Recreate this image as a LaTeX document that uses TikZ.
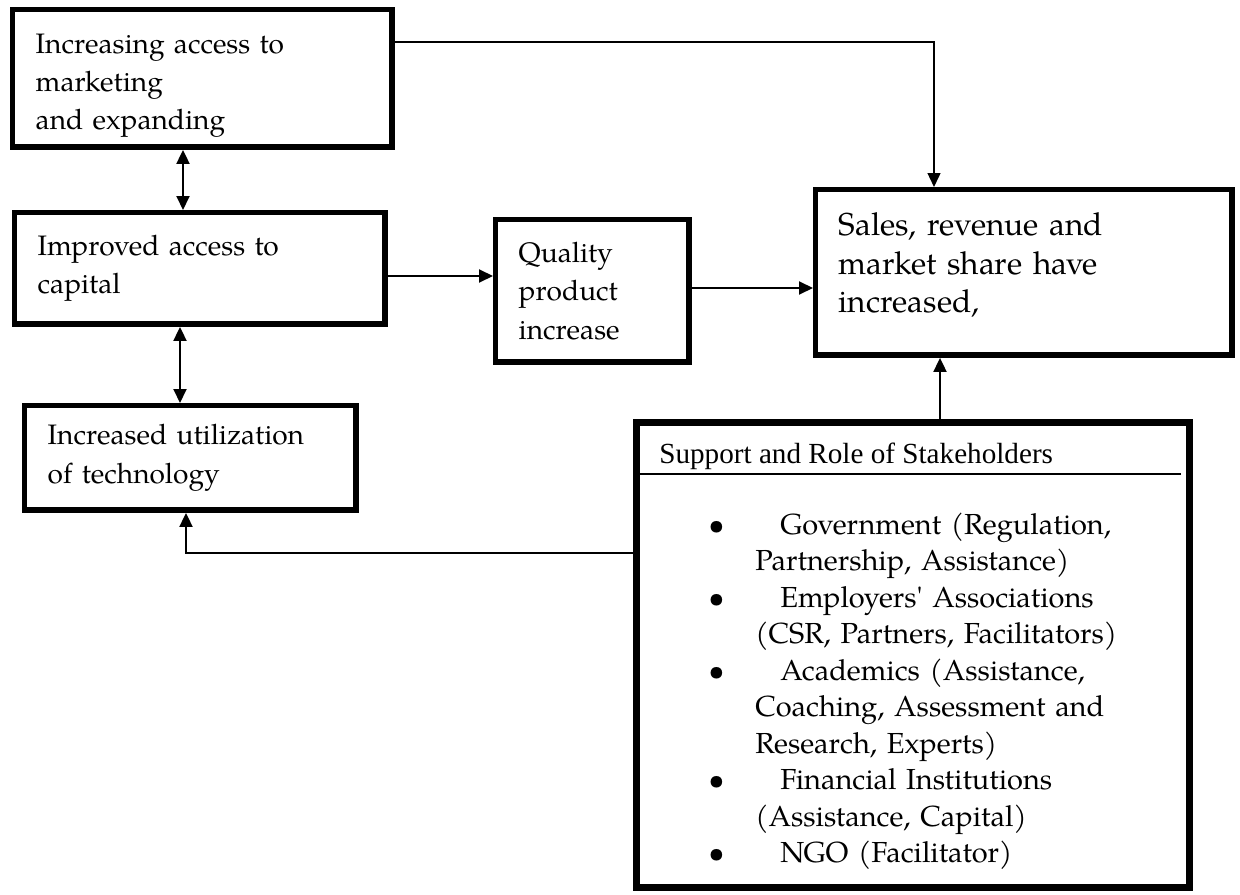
\documentclass[tikz,border=0pt]{standalone}
\usepackage{fontspec}
\setmainfont{texgyrepagella-regular.otf}
\newfontfamily\timesfont{Liberation Serif}
\usepackage{tikz}
\usetikzlibrary{positioning}
\usetikzlibrary{arrows.meta}

\newcommand{\bul}{\makebox[0.94cm][l]{\textbullet}\hspace*{0.5cm}}
\newcommand{\cont}{\hspace*{0.94cm}}

\tikzset{
    box/.style={draw, line width=3.1pt, anchor=north west, align=left, inner xsep=0.46cm, inner ysep=0pt, font=\fontsize{16}{21.9}\selectfont},
    conn/.style={line width=1.1pt, -{Triangle[length=0.28cm, width=0.26cm]}},
    biconn/.style={line width=1.1pt, {Triangle[length=0.28cm, width=0.26cm]}-{Triangle[length=0.28cm, width=0.26cm]}}
}

\begin{document}
\begin{tikzpicture}[x=0.02cm, y=-0.02cm]

    \useasboundingbox (0,0) rectangle (1240,895);

    % left column
    \node[box, text width=6.67cm, minimum height=2.75cm, text depth=40pt] (mkt) at (10,7) {Increasing access to\\marketing\\and expanding};
    \node[box, text width=6.49cm, minimum height=2.23cm] (cap) at (12,210) {Improved access to\\capital};
    \node[box, text width=5.71cm, minimum height=2.09cm] (tech) at (22,403) {Increased utilization\\of technology};

    % middle and right
    \node[box, text width=2.95cm, minimum height=2.85cm] (qual) at (493,217) {Quality\\product\\increase};
    \node[box, text width=7.41cm, minimum height=3.31cm, text depth=55pt, font=\fontsize{18}{21.9}\selectfont] (sales) at (813,187) {Sales, revenue and\\market share have\\increased,};

    % stakeholders panel
    \node[box, line width=4pt, minimum width=11.06cm, minimum height=9.30cm] (stake) at (633,419) {};
    \node[anchor=base west, inner sep=0pt, font=\timesfont\fontsize{16.6}{20}\selectfont] (stitle) at (659,463) {Support and Role of Stakeholders};
    \draw[line width=0.8pt] (640,474) -- (1181,474);
    \node[anchor=base west, inner sep=0pt, text width=9cm, align=left, font=\fontsize{16.5}{20.8}\selectfont] (slist) at (708,534) {%
        \bul Government (Regulation,\\
        \cont Partnership, Assistance)\\
        \bul Employers\textquotesingle{} Associations\\
        \cont (CSR, Partners, Facilitators)\\
        \bul Academics (Assistance,\\
        \cont Coaching, Assessment and\\
        \cont Research, Experts)\\
        \bul Financial Institutions\\
        \cont (Assistance, Capital)\\
        \bul NGO (Facilitator)};

    % connections
    \draw[biconn] (mkt.south -| 183,0) -- (cap.north -| 183,0);
    \draw[biconn] (cap.south -| 180,0) -- (tech.north -| 180,0);
    \draw[conn] (cap.east |- 0,276) -- (qual.west |- 0,276);
    \draw[conn] (qual.east |- 0,288) -- (sales.west |- 0,288);
    \draw[conn, line width=0.8pt] (mkt.east |- 0,42) -| (sales.north -| 934,0);
    \draw[conn] (stake.north -| 940,0) -- (sales.south -| 940,0);
    \draw[conn] (stake.west |- 0,553) -| (tech.south -| 186,0);

\end{tikzpicture}
\end{document}
